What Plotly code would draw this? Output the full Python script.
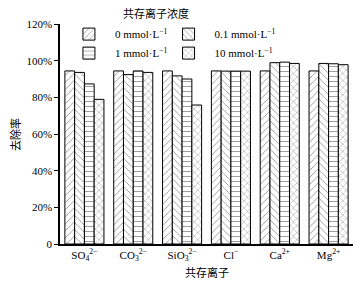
import plotly.graph_objects as go

categories = ["SO<sub>4</sub><sup>2−</sup>", "CO<sub>3</sub><sup>2−</sup>", "SiO<sub>3</sub><sup>2−</sup>",
              "Cl<sup>−</sup>", "Ca<sup>2+</sup>", "Mg<sup>2+</sup>"]
series_names = ["0 mmol·L<sup>−1</sup>", "0.1 mmol·L<sup>−1</sup>", "1 mmol·L<sup>−1</sup>", "10 mmol·L<sup>−1</sup>"]
conc_0 = [94.4, 94.4, 94.4, 94.4, 94.4, 94.4]
conc_01 = [93.6, 92.4, 91.7, 94.3, 98.9, 98.5]
conc_1 = [87.3, 94.4, 90.0, 94.3, 99.2, 98.3]
conc_10 = [78.9, 93.6, 75.8, 94.3, 98.5, 97.8]
y_tick_vals = [0, 20, 40, 60, 80, 100, 120]
y_tick_text = ["0", "20%", "40%", "60%", "80%", "100%", "120%"]

patterns = ["/", "\\", "-", "x"]
legend_ids = ["legend", "legend2", "legend", "legend2"]
FONT = "Liberation Serif, Times New Roman, Noto Sans CJK SC, serif"
CJK = "Noto Sans CJK SC"

fig = go.Figure()
for name, vals, pat, lg in zip(series_names, [conc_0, conc_01, conc_1, conc_10], patterns, legend_ids):
    fig.add_trace(go.Bar(
        x=categories, y=vals, name=name, legend=lg, legendgroup=name,
        marker=dict(color="white", line=dict(color="black", width=1),
                    pattern=dict(shape=pat, fgcolor="black", bgcolor="white",
                                 size=5, solidity=0.15, fillmode="overlay")),
    ))

legend_common = dict(orientation="v", yanchor="top", xanchor="left", tracegroupgap=4,
                     itemwidth=42, font=dict(size=11, family=FONT),
                     bgcolor="rgba(0,0,0,0)", traceorder="normal")

# the page body adds an 8px offset, so the figure is 8px smaller with margins shifted
fig.update_layout(
    width=353, height=276,
    margin=dict(l=52, r=8, t=16, b=40),
    paper_bgcolor="white", plot_bgcolor="white",
    barmode="group", bargap=0.2, bargroupgap=0,
    font=dict(family=FONT, size=11, color="black"),
    showlegend=True,
    legend=dict(x=0.01, y=1.02, **legend_common),
    legend2=dict(x=0.35, y=1.02, **legend_common),
    xaxis=dict(
        showline=True, linecolor="black", linewidth=1.5, ticks="", mirror=False,
        tickfont=dict(size=11, family=FONT), automargin=False,
    ),
    yaxis=dict(
        range=[0, 120], tickvals=y_tick_vals, ticktext=y_tick_text,
        showline=True, linecolor="black", linewidth=1.5, ticks="outside", ticklen=4,
        tickcolor="black", showgrid=False, zeroline=False, automargin=False,
        tickfont=dict(size=11, family=FONT),
    ),
    annotations=[
        dict(text="共存离子浓度", xref="paper", yref="paper", x=0.327, y=1.05,
             xanchor="center", yanchor="middle", showarrow=False, font=dict(size=11, family=CJK)),
        dict(text="共存离子", xref="paper", yref="paper", x=0.5, y=-0.127,
             xanchor="center", yanchor="middle", showarrow=False, font=dict(size=11, family=CJK)),
        dict(text="去除率", xref="paper", yref="paper", x=-0.154, y=0.5, textangle=-90,
             xanchor="center", yanchor="middle", showarrow=False, font=dict(size=11, family=CJK)),
    ],
)

fig.write_html("out.html")
